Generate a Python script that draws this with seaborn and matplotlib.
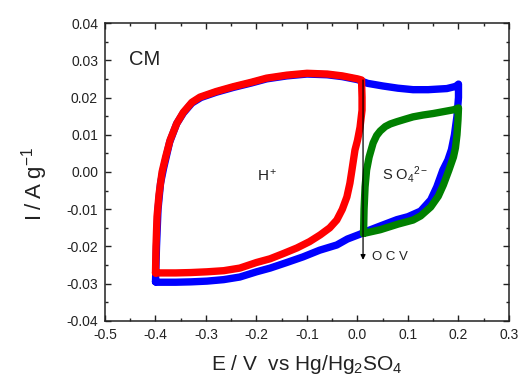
import matplotlib
matplotlib.use("Agg")
import matplotlib.pyplot as plt
import seaborn as sns
from matplotlib.ticker import MultipleLocator, FormatStrFormatter

# full window -0.4 .. 0.2 V (blue)
blue_E = [-0.400, -0.398, -0.395, -0.390, -0.384, -0.372, -0.358, -0.345, -0.328, -0.310,
          -0.280, -0.246, -0.210, -0.180, -0.140, -0.100, -0.060, -0.030, 0.000, 0.020,
          0.050, 0.080, 0.110, 0.140, 0.177, 0.195, 0.200, 0.200, 0.197, 0.192,
          0.186, 0.179, 0.169, 0.157, 0.145, 0.125, 0.100, 0.078, 0.045, 0.020,
          0.005, -0.020, -0.041, -0.075, -0.108, -0.140, -0.173, -0.200, -0.233, -0.265,
          -0.298, -0.330, -0.360, -0.397, -0.400]
blue_I = [-0.0295, -0.0200, -0.0100, -0.0030, 0.0010, 0.0080, 0.0130, 0.0158, 0.0185, 0.0200,
          0.0214, 0.0227, 0.0239, 0.0250, 0.0258, 0.0263, 0.0261, 0.0256, 0.0248, 0.0238,
          0.0231, 0.0225, 0.0221, 0.0221, 0.0224, 0.0230, 0.0236, 0.0200, 0.0150, 0.0100,
          0.0060, 0.0032, 0.0005, -0.0040, -0.0075, -0.0105, -0.0120, -0.0128, -0.0145, -0.0158,
          -0.0167, -0.0180, -0.0196, -0.0210, -0.0228, -0.0243, -0.0258, -0.0268, -0.0282, -0.0289,
          -0.0293, -0.0295, -0.0296, -0.0296, -0.0295]

# proton window -0.4 .. 0.0 V (red)
red_E = [-0.400, -0.399, -0.397, -0.393, -0.387, -0.380, -0.371, -0.358, -0.345, -0.328,
         -0.312, -0.280, -0.246, -0.210, -0.180, -0.140, -0.100, -0.060, -0.030, 0.000,
         0.008, 0.009, 0.009, 0.005, 0.000, -0.005, -0.011, -0.015, -0.021, -0.030,
         -0.041, -0.055, -0.074, -0.095, -0.120, -0.145, -0.173, -0.200, -0.233, -0.265,
         -0.298, -0.330, -0.360, -0.391, -0.400]
red_I = [-0.0271, -0.0200, -0.0120, -0.0060, 0.0000, 0.0040, 0.0086, 0.0130, 0.0160, 0.0187,
         0.0201, 0.0216, 0.0229, 0.0241, 0.0252, 0.0260, 0.0265, 0.0263, 0.0258, 0.0250,
         0.0247, 0.0200, 0.0166, 0.0120, 0.0085, 0.0059, 0.0005, -0.0030, -0.0067, -0.0100,
         -0.0129, -0.0150, -0.0169, -0.0187, -0.0204, -0.0218, -0.0233, -0.0243, -0.0258, -0.0265,
         -0.0268, -0.0270, -0.0271, -0.0271, -0.0271]

# sulfate window 0.0 .. 0.2 V (green)
green_E = [0.012, 0.013, 0.015, 0.018, 0.023, 0.031, 0.038, 0.045, 0.055, 0.065,
           0.078, 0.095, 0.110, 0.130, 0.150, 0.170, 0.190, 0.200, 0.199, 0.197,
           0.194, 0.190, 0.181, 0.170, 0.160, 0.145, 0.125, 0.110, 0.080, 0.045,
           0.025, 0.012]
green_I = [-0.0165, -0.0100, -0.0040, 0.0005, 0.0040, 0.0078, 0.0098, 0.0110, 0.0122, 0.0129,
           0.0135, 0.0142, 0.0148, 0.0153, 0.0157, 0.0162, 0.0167, 0.0172, 0.0140, 0.0100,
           0.0065, 0.0040, 0.0005, -0.0035, -0.0065, -0.0094, -0.0118, -0.0129, -0.0140, -0.0155,
           -0.0161, -0.0165]

ocv_E = 0.011
ocv_top, ocv_bottom = 0.0247, -0.0236

sns.set_style("ticks")
plt.rcParams['font.family'] = ['Liberation Sans', 'DejaVu Sans']
plt.rcParams['mathtext.fontset'] = 'custom'
plt.rcParams['mathtext.rm'] = 'Liberation Sans'
plt.rcParams['mathtext.it'] = 'Liberation Sans:italic'

ink = '#222222'
fig, ax = plt.subplots(figsize=(5.25, 3.9), dpi=100)
fig.subplots_adjust(left=0.2, right=0.9695, top=0.941, bottom=0.177)

sns.lineplot(x=blue_E, y=blue_I, sort=False, estimator=None, color='#0000ff', lw=5.3, ax=ax)
sns.lineplot(x=red_E, y=red_I, sort=False, estimator=None, color='#ff0000', lw=5.3, ax=ax)
sns.lineplot(x=green_E, y=green_I, sort=False, estimator=None, color='#008000', lw=5.3, ax=ax)

ax.annotate('', xy=(ocv_E, ocv_bottom), xytext=(ocv_E, ocv_top),
            arrowprops=dict(arrowstyle='-|>', color='black', lw=0.9, mutation_scale=7,
                            shrinkA=0, shrinkB=0))

ax.text(-0.452, 0.0302, 'CM', fontsize=14.5, color=ink, va='center')
ax.text(-0.199, -0.0009, 'H$^+$', fontsize=11, color=ink, va='center')
ax.text(0.049, -0.0008, 'S O$_4$$^{2-}$', fontsize=10.5, color=ink, va='center')
ax.text(0.028, -0.0228, 'O C V', fontsize=9.5, color=ink, va='center')

ax.set_xlim(-0.5, 0.3)
ax.set_ylim(-0.04, 0.04)
ax.xaxis.set_major_locator(MultipleLocator(0.1))
ax.xaxis.set_minor_locator(MultipleLocator(0.05))
ax.yaxis.set_major_locator(MultipleLocator(0.01))
ax.yaxis.set_minor_locator(MultipleLocator(0.005))
ax.xaxis.set_major_formatter(FormatStrFormatter('%.1f'))
ax.yaxis.set_major_formatter(FormatStrFormatter('%.2f'))
ax.tick_params(which='both', direction='in', top=True, right=True, colors=ink,
               labelsize=10, width=1)
ax.tick_params(which='major', length=4.5, pad=5)
ax.tick_params(which='minor', length=2.5)
for s in ax.spines.values():
    s.set_color(ink)
    s.set_linewidth(1.1)

ax.set_xlabel('E / V  vs Hg/Hg$_2$SO$_4$', fontsize=15, color=ink)
ax.xaxis.set_label_coords(0.5, -0.108)
ax.set_ylabel(r'I$\;$/$\;$A$\;$g$^{-1}$', fontsize=16, color=ink)
ax.yaxis.set_label_coords(-0.136, 0.46)

fig.savefig('out.png', dpi=100)
